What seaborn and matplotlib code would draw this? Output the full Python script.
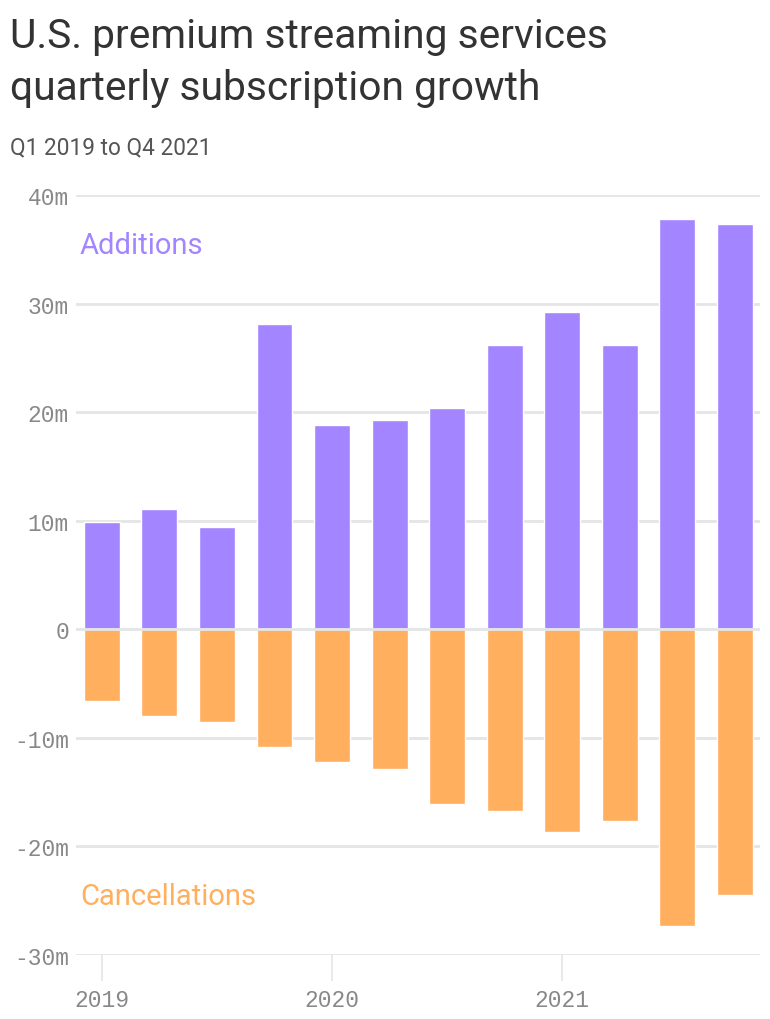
import seaborn as sns
import matplotlib.pyplot as plt
import pandas as pd

quarters = ["Q1 2019", "Q2 2019", "Q3 2019", "Q4 2019",
            "Q1 2020", "Q2 2020", "Q3 2020", "Q4 2020",
            "Q1 2021", "Q2 2021", "Q3 2021", "Q4 2021"]
additions = [9.9, 11.1, 9.45, 28.15, 18.85, 19.25, 20.35, 26.15, 29.25, 26.15, 37.75, 37.3]
cancellations = [-6.65, -7.95, -8.5, -10.8, -12.2, -12.85, -16.1, -16.75, -18.7, -17.7, -27.35, -24.45]
year_labels = ["2019", "2020", "2021"]
ytick_values = [-30, -20, -10, 0, 10, 20, 30, 40]
ytick_labels = ["-30m", "-20m", "-10m", "0", "10m", "20m", "30m", "40m"]

purple = "#a385ff"
orange = "#ffaf5e"
grid_color = "#e5e5e5"
tick_color = "#888888"
mono = ["Liberation Mono", "DejaVu Sans Mono"]

df = pd.DataFrame({"quarter": quarters, "additions": additions, "cancellations": cancellations})

sns.set_theme(style="white")
plt.rcParams["font.family"] = ["Roboto", "DejaVu Sans"]

fig = plt.figure(figsize=(7.7, 10.2), dpi=100)
ax = fig.add_axes([76 / 770, 1 - 956 / 1020, 684 / 770, 760 / 1020])

sns.barplot(data=df, x="quarter", y="additions", color=purple, width=0.626,
            saturation=1, ax=ax, zorder=3)
sns.barplot(data=df, x="quarter", y="cancellations", color=orange, width=0.626,
            saturation=1, ax=ax, zorder=3)

ax.set_xlim(-0.452, 11.443)
ax.set_ylim(-30, 40)
ax.set_xlabel("")
ax.set_ylabel("")

for v in ytick_values:
    ax.axhline(v, color=grid_color, lw=2, zorder=1 if v != 0 else 4)

ax.set_yticks(ytick_values)
ax.set_yticklabels(ytick_labels, family=mono, fontsize=16.5, color=tick_color)
ax.set_xticks([0, 4, 8])
ax.set_xticklabels(year_labels, family=mono, fontsize=16.5, color=tick_color)
ax.tick_params(axis="y", length=0, pad=5)
ax.tick_params(axis="x", length=18.5, width=1.2, color=grid_color, pad=5, direction="out")
ax.xaxis.set_ticks_position("bottom")
for s in ax.spines.values():
    s.set_visible(False)

ax.text(80 / 770, 1 - 246 / 1020, "Additions", transform=fig.transFigure,
        color=purple, fontsize=21, va="center", ha="left")
ax.text(80 / 770, 1 - 897 / 1020, "Cancellations", transform=fig.transFigure,
        color=orange, fontsize=21, va="center", ha="left")

fig.text(10 / 770, 1 - 37 / 1020, "U.S. premium streaming services",
         fontsize=29.3, color="#333333", va="center", ha="left")
fig.text(10 / 770, 1 - 88 / 1020, "quarterly subscription growth",
         fontsize=29.3, color="#333333", va="center", ha="left")
fig.text(10 / 770, 1 - 148 / 1020, "Q1 2019 to Q4 2021",
         fontsize=16.3, color="#555555", va="center", ha="left")

fig.savefig("out.png", dpi=100, facecolor="white")
